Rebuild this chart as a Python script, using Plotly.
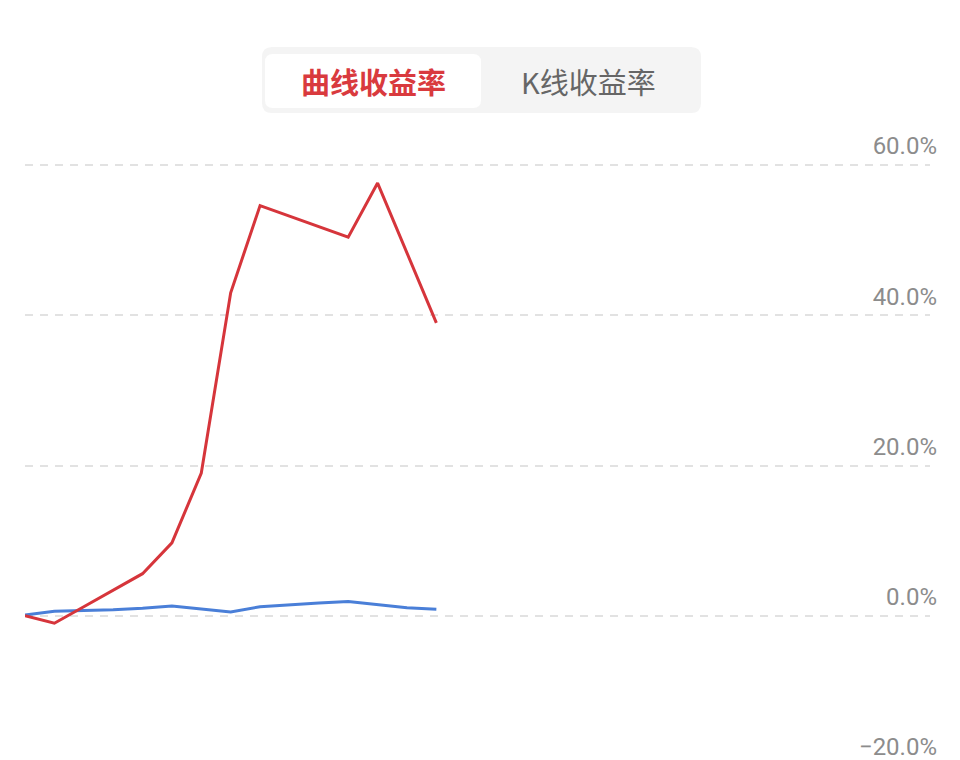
import plotly.graph_objects as go

# return series (percent), one point per period
periods = list(range(15))
curve_return = [0.0, -1.0, 1.2, 3.4, 5.6, 9.7, 19.0, 43.0, 54.6, 53.2, 51.8, 50.4, 57.6, 48.4, 39.0]
kline_return = [0.1, 0.6, 0.7, 0.8, 1.0, 1.3, 0.9, 0.5, 1.2, 1.5, 1.7, 1.9, 1.5, 1.05, 0.85]

y_ticks = [-20, 0, 20, 40, 60]
y_tick_text = ["−20.0%", "0.0%", "20.0%", "40.0%", "60.0%"]
tab_labels = ["曲线收益率", "K线收益率"]

W, H = 960, 760
L, R, T, B = 17, 38, 112, 0
OFF = 8  # page margin of the browser


def px(x):
    return (x - OFF - L) / (W - L - R)


def py(y):
    return (H - B - (y - OFF)) / (H - T - B)


def rounded_rect(x0, y0, x1, y1, r):
    pts = [
        f"M {px(x0 + r)},{py(y0)}",
        f"L {px(x1 - r)},{py(y0)}",
        f"Q {px(x1)},{py(y0)} {px(x1)},{py(y0 + r)}",
        f"L {px(x1)},{py(y1 - r)}",
        f"Q {px(x1)},{py(y1)} {px(x1 - r)},{py(y1)}",
        f"L {px(x0 + r)},{py(y1)}",
        f"Q {px(x0)},{py(y1)} {px(x0)},{py(y1 - r)}",
        f"L {px(x0)},{py(y0 + r)}",
        f"Q {px(x0)},{py(y0)} {px(x0 + r)},{py(y0)}",
        "Z",
    ]
    return " ".join(pts)


fig = go.Figure()

fig.add_trace(go.Scatter(x=periods, y=kline_return, mode="lines",
                         line=dict(color="#4a7fd8", width=3), name=tab_labels[1]))
fig.add_trace(go.Scatter(x=periods, y=curve_return, mode="lines",
                         line=dict(color="#d6353b", width=3), name=tab_labels[0]))

# tab switcher on top
fig.add_shape(type="path", xref="paper", yref="paper", layer="below",
              path=rounded_rect(262, 47, 701, 113, 10),
              fillcolor="#f4f4f4", line=dict(width=0))
fig.add_shape(type="path", xref="paper", yref="paper", layer="below",
              path=rounded_rect(265, 54, 481, 108, 8),
              fillcolor="#ffffff", line=dict(width=0))
fig.add_annotation(x=px(373), y=py(81), xref="paper", yref="paper",
                   xanchor="center", yanchor="middle",
                   text="<b>" + tab_labels[0] + "</b>", showarrow=False,
                   font=dict(family="Noto Sans CJK SC", size=29, color="#d93a3e"))
fig.add_annotation(x=px(588), y=py(81), xref="paper", yref="paper",
                   xanchor="center", yanchor="middle",
                   text=tab_labels[1], showarrow=False,
                   font=dict(family="Noto Sans CJK SC", size=29, color="#666666"))

fig.update_layout(
    width=W, height=H,
    margin=dict(l=L, r=R, t=T, b=B, pad=0),
    paper_bgcolor="white",
    plot_bgcolor="white",
    showlegend=False,
    xaxis=dict(range=[0, 30.8], visible=False, fixedrange=True),
    yaxis=dict(
        range=[-20.27, 66],
        side="right",
        tickvals=y_ticks,
        ticktext=y_tick_text,
        ticklabelposition="inside",
        ticklabelshift=-19,
        ticklabelstandoff=-10,
        tickfont=dict(family="Roboto", size=24, color="#8c8c8c"),
        showgrid=True,
        gridcolor="#e2e2e2",
        gridwidth=1.5,
        griddash="8px,7px",
        zeroline=False,
        showline=False,
        ticks="",
    ),
)

fig.write_html("out.html")
